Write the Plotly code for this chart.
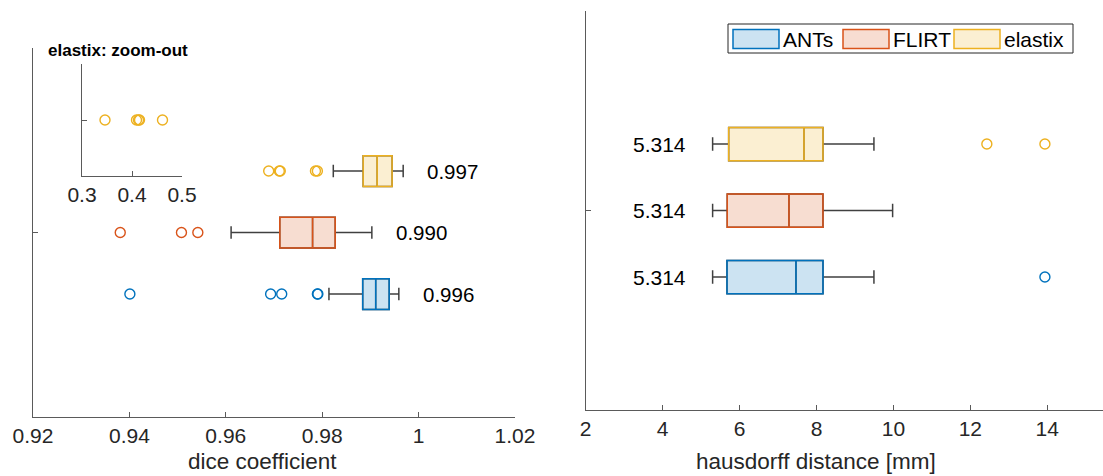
import plotly.graph_objects as go

# ---------------- data ----------------
methods = ["ANTs", "FLIRT", "elastix"]
positions = [1, 2, 3]
colors = ["#0072BD", "#D95319", "#EDB120"]
fills = ["rgba(0,114,189,0.2)", "rgba(217,83,25,0.2)", "rgba(237,177,32,0.2)"]

# dice coefficient (left panel)
dice_lower = [0.9814, 0.9611, 0.9823]
dice_q1 = [0.9884, 0.9712, 0.9885]
dice_median = [0.9911, 0.9780, 0.9914]
dice_q3 = [0.9939, 0.9827, 0.9945]
dice_upper = [0.9959, 0.9903, 0.9968]
dice_outliers = [
    [0.9401, 0.9693, 0.9716, 0.9790, 0.9791],
    [0.9381, 0.9508, 0.9542],
    [0.9689, 0.9711, 0.9713, 0.9786, 0.9790],
]
dice_labels = ["0.996", "0.990", "0.997"]

# elastix zoom-out (inset)
elastix_zoom_outliers = [0.346, 0.409, 0.413, 0.415, 0.461]

# hausdorff distance (right panel)
hd_lower = [5.30, 5.30, 5.30]
hd_q1 = [5.673, 5.680, 5.717]
hd_median = [7.467, 7.285, 7.675]
hd_q3 = [8.170, 8.169, 8.169]
hd_upper = [9.494, 9.980, 9.494]
hd_outliers = [[13.94], [], [12.43, 13.94]]
hd_labels = ["5.314", "5.314", "5.314"]

dice_ticks = [0.92, 0.94, 0.96, 0.98, 1.0, 1.02]
dice_ticktext = ["0.92", "0.94", "0.96", "0.98", "1", "1.02"]
hd_ticks = [2, 4, 6, 8, 10, 12, 14]
zoom_ticks = [0.3, 0.4, 0.5]

# ---------------- figure ----------------
W, H = 1103, 476
FONT = "Liberation Sans, Arial, Helvetica, sans-serif"
TXT = "#262626"
AX = "#5a5a5a"
WHISK = "#404040"

fig = go.Figure()


def add_boxes(lower, q1, med, q3, upper, outliers, xa, ya):
    for i, m in enumerate(methods):
        # whiskers (dark grey)
        fig.add_trace(go.Box(
            y=[positions[i]], q1=[q1[i]], median=[med[i]], q3=[q3[i]],
            lowerfence=[lower[i]], upperfence=[upper[i]],
            orientation="h", width=0.5, whiskerwidth=0.4,
            line=dict(color=WHISK, width=1.5), fillcolor="rgba(0,0,0,0)",
            boxpoints=False, showlegend=False, hoverinfo="skip",
            xaxis=xa, yaxis=ya, name=m,
        ))
        # coloured box
        fig.add_trace(go.Box(
            y=[positions[i]], q1=[q1[i]], median=[med[i]], q3=[q3[i]],
            lowerfence=[q1[i]], upperfence=[q3[i]],
            orientation="h", width=0.5, whiskerwidth=0,
            line=dict(color=colors[i], width=1.5), fillcolor=fills[i],
            boxpoints=False, showlegend=False, name=m,
            xaxis=xa, yaxis=ya,
        ))
        if outliers[i]:
            fig.add_trace(go.Scatter(
                x=outliers[i], y=[positions[i]] * len(outliers[i]),
                mode="markers",
                marker=dict(symbol="circle-open", size=10, color=colors[i],
                            line=dict(width=1.4, color=colors[i])),
                showlegend=False, xaxis=xa, yaxis=ya, name=m + " outliers",
            ))


add_boxes(dice_lower, dice_q1, dice_median, dice_q3, dice_upper, dice_outliers, "x", "y")
add_boxes(hd_lower, hd_q1, hd_median, hd_q3, hd_upper, hd_outliers, "x2", "y2")

# inset
fig.add_trace(go.Scatter(
    x=elastix_zoom_outliers, y=[1] * len(elastix_zoom_outliers), mode="markers",
    marker=dict(symbol="circle-open", size=10, color=colors[2],
                line=dict(width=1.4, color=colors[2])),
    showlegend=False, xaxis="x3", yaxis="y3", name="elastix zoom-out",
))

annotations = []
shapes = []
for i in range(3):
    annotations.append(dict(
        x=dice_upper[i] + 0.0045, y=positions[i], xref="x", yref="y",
        text=dice_labels[i], showarrow=False, xanchor="left", yanchor="middle",
        font=dict(size=20.5, color="black", family=FONT),
    ))
    annotations.append(dict(
        x=hd_lower[i] - 0.64, y=positions[i], xref="x2", yref="y2",
        text=hd_labels[i], showarrow=False, xanchor="right", yanchor="middle",
        font=dict(size=21, color="black", family=FONT),
    ))
annotations.append(dict(
    x=118 / W, y=1 - 51 / H, xref="paper", yref="paper", text="<b>elastix: zoom-out</b>",
    showarrow=False, xanchor="center", yanchor="middle",
    font=dict(size=17, color="black", family=FONT),
))
# axis titles
annotations.append(dict(
    x=262 / W, y=1 - 461 / H, xref="paper", yref="paper", text="dice coefficient",
    showarrow=False, xanchor="center", yanchor="middle",
    font=dict(size=22.5, color=TXT, family=FONT),
))
annotations.append(dict(
    x=815.5 / W, y=1 - 461 / H, xref="paper", yref="paper", text="hausdorff distance [mm]",
    showarrow=False, xanchor="center", yanchor="middle",
    font=dict(size=22.5, color=TXT, family=FONT),
))

# legend (drawn as a framed row of swatches)
leg_box = (728, 24, 1073, 53)
shapes.append(dict(type="rect", xref="paper", yref="paper",
                   x0=leg_box[0] / W, x1=leg_box[2] / W,
                   y0=1 - leg_box[3] / H, y1=1 - leg_box[1] / H,
                   line=dict(color=TXT, width=1), fillcolor="white", layer="above"))
sw_left = [733, 843, 954]
for i, m in enumerate(methods):
    shapes.append(dict(type="rect", xref="paper", yref="paper",
                       x0=sw_left[i] / W, x1=(sw_left[i] + 46) / W,
                       y0=1 - 48.5 / H, y1=1 - 29.5 / H,
                       line=dict(color=colors[i], width=1.5), fillcolor=fills[i],
                       layer="above"))
    annotations.append(dict(
        x=(sw_left[i] + 48) / W, y=1 - 39.5 / H, xref="paper", yref="paper",
        text=m, showarrow=False, xanchor="left", yanchor="middle",
        font=dict(size=21, color="black", family=FONT),
    ))

common_x = dict(showline=True, linecolor=AX, linewidth=1, ticks="inside", ticklen=5,
                tickcolor=AX, showgrid=False, zeroline=False, automargin=False,
                tickfont=dict(size=21, color=TXT, family=FONT))
common_y = dict(showline=True, linecolor=AX, linewidth=1, ticks="inside", ticklen=5,
                tickcolor=AX, showgrid=False, zeroline=False, range=[-1, 5],
                tickvals=[2], ticktext=[""], automargin=False)

fig.update_layout(
    width=W, height=H,
    margin=dict(l=0, r=0, t=0, b=0),
    paper_bgcolor="white", plot_bgcolor="white",
    boxmode="overlay",
    showlegend=False,
    font=dict(family=FONT, color=TXT),
    xaxis=dict(domain=[33 / W, 515 / W], range=[0.92, 1.02], tickvals=dice_ticks,
               ticktext=dice_ticktext, anchor="y", **common_x),
    yaxis=dict(domain=[1 - 417 / H, 1 - 48 / H], anchor="x", **common_y),
    xaxis2=dict(domain=[585.7 / W, 1.0], range=[2, 15.45], tickvals=hd_ticks, anchor="y2",
                **common_x),
    yaxis2=dict(domain=[1 - 410 / H, 1 - 11 / H], anchor="x2", **common_y),
    xaxis3=dict(domain=[82 / W, 182 / W], range=[0.3, 0.5], tickvals=zoom_ticks, anchor="y3",
                ticktext=["0.3", "0.4", "0.5"], **common_x),
    yaxis3=dict(domain=[1 - 176 / H, 1 - 64 / H], anchor="x3", showline=True, linecolor=AX,
                ticks="inside", ticklen=5, tickcolor=AX, showgrid=False, zeroline=False,
                range=[0, 2], tickvals=[1], ticktext=[""], automargin=False),
    annotations=annotations,
    shapes=shapes,
)

fig.write_html(
    "out.html",
    config={"displayModeBar": False},
    post_script="document.body.style.margin='0';document.body.style.overflow='hidden';",
)
